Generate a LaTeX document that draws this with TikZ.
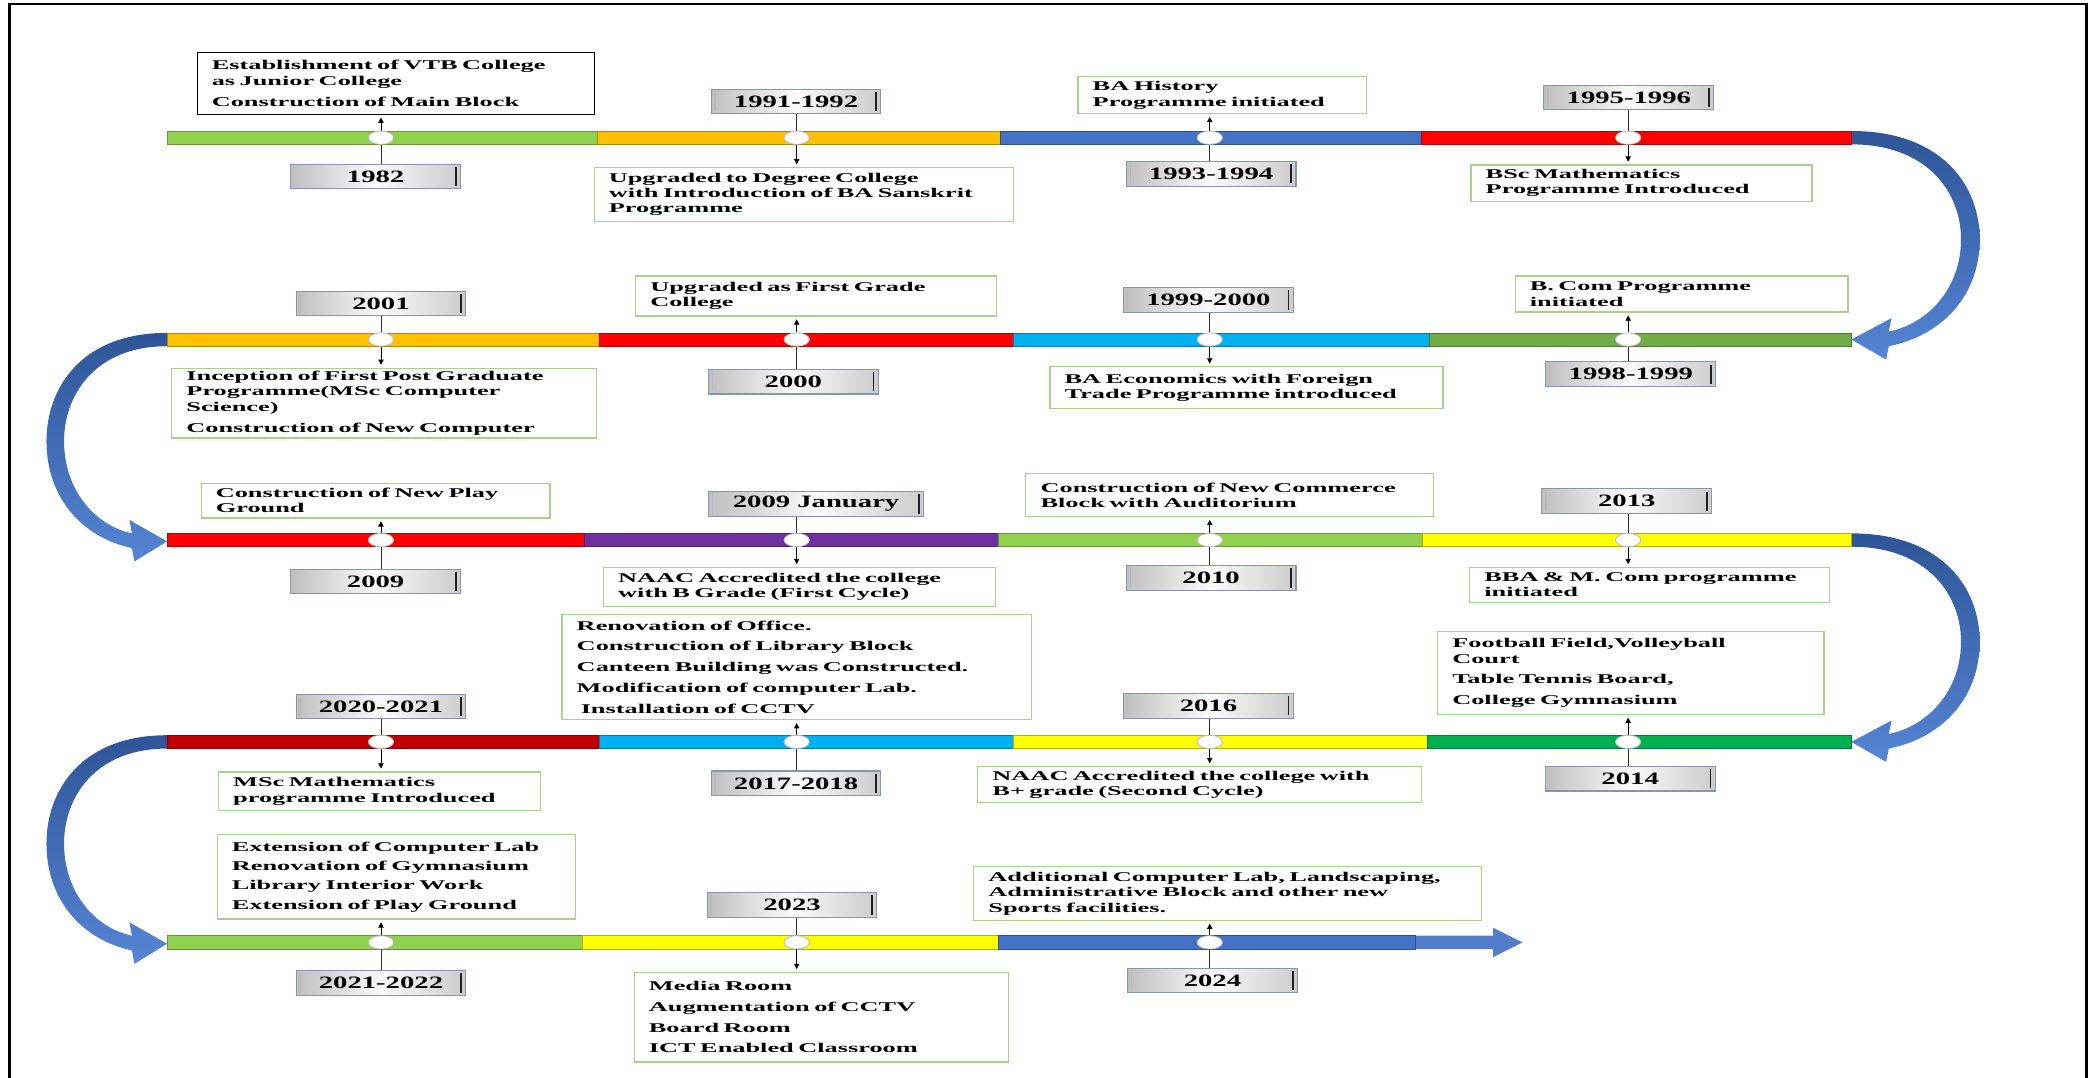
\documentclass[tikz,border=0pt]{standalone}
\usepackage{fontspec}
\newfontfamily\bodyfont{Liberation Serif}[FakeStretch=1.97]
\newfontfamily\yearfont{Liberation Serif}[FakeStretch=1.65]
\usetikzlibrary{shapes.geometric,arrows.meta}
\definecolor{cLg}{HTML}{92D050}
\definecolor{cGold}{HTML}{FFC000}
\definecolor{cBlue}{HTML}{4472C4}
\definecolor{cRed}{HTML}{FF0000}
\definecolor{cCyan}{HTML}{00B0F0}
\definecolor{cGrb}{HTML}{70AD47}
\definecolor{cPur}{HTML}{7030A0}
\definecolor{cYel}{HTML}{FFFF00}
\definecolor{cDred}{HTML}{C00000}
\definecolor{cGrc}{HTML}{00B050}
\definecolor{boxgreen}{HTML}{A9D18E}
\definecolor{yearedge}{HTML}{8497B0}
\definecolor{arrowdark}{HTML}{2F5597}
\definecolor{arrowlight}{HTML}{5585D5}
\newcommand\seg[4]{\filldraw[fill=#4, draw=#4!70!black, line width=0.5pt] (#1,#3-5) rectangle (#2,#3+5);}
\newcommand\bendarrow[3]{%
\begin{scope}[shift={(#1,#2)}, xscale=#3]
\shade[top color=arrowdark, bottom color=arrowlight]
 (0,-5) .. controls (68,-5) and (96,36) .. (96,76)
 .. controls (96,118) and (68,148) .. (28,156)
 -- (26,166) -- (0,151) -- (30,135) -- (28,145)
 .. controls (58,139) and (82,112) .. (82,76)
 .. controls (82,42) and (58,5) .. (0,5) -- cycle;
\end{scope}}
\tikzset{
 tbox/.style={draw=boxgreen, line width=0.9pt, fill=white, inner xsep=11pt, inner ysep=2pt,
   align=left, anchor=north west, font=\bodyfont\bfseries\fontsize{10}{11.5}\selectfont},
 yearbox/.style={draw=yearedge, line width=0.8pt, left color=gray!50, right color=gray!40,
   middle color=gray!4, minimum width=127pt, minimum height=18.5pt, inner sep=0pt,
   font=\yearfont\bfseries\fontsize{13}{13}\selectfont,
   path picture={
     \draw[gray!25!black, line width=1.3pt]
       ([xshift=-3.5pt,yshift=-2pt]path picture bounding box.north east) --
       ([xshift=-3.5pt,yshift=2pt]path picture bounding box.south east);
     \draw[gray!55, line width=1pt]
       ([xshift=3pt,yshift=-2pt]path picture bounding box.north west) --
       ([xshift=3pt,yshift=2pt]path picture bounding box.south west);}},
 dot/.style={ellipse, draw=gray!55, line width=0.6pt, fill=white, minimum width=19pt,
   minimum height=10pt, inner sep=0pt},
 arr/.style={-{Triangle[length=4pt,width=4pt]}, line width=0.6pt, black, shorten >=2pt},
 yline/.style={line width=0.6pt, gray!35!black}
}
\begin{document}
\begin{tikzpicture}[x=1pt,y=-1pt]
\useasboundingbox (0,0) rectangle (1568,806);
\draw[line width=2.2pt] (7,860) -- (7,3) -- (1561,3) -- (1561,860);

% curved connectors between rows
\bendarrow{1385}{103}{1}
\bendarrow{125}{254}{-0.94}
\bendarrow{1385}{404}{1}
\bendarrow{125}{555}{-0.94}

% bars
\seg{125}{447}{103}{cLg}\seg{447}{748}{103}{cGold}\seg{748}{1063}{103}{cBlue}\seg{1063}{1385}{103}{cRed}
\seg{125}{448}{254}{cGold}\seg{448}{758}{254}{cRed}\seg{758}{1069}{254}{cCyan}\seg{1069}{1385}{254}{cGrb}
\seg{125}{437}{404}{cRed}\seg{437}{747}{404}{cPur}\seg{747}{1064}{404}{cLg}\seg{1064}{1385}{404}{cYel}
\seg{125}{448}{555}{cDred}\seg{448}{758}{555}{cCyan}\seg{758}{1068}{555}{cYel}\seg{1068}{1385}{555}{cGrc}
\fill[cBlue!92!white] (1058,700) -- (1117,700) -- (1117,694) -- (1139,705) -- (1117,716) -- (1117,710) -- (1058,710) -- cycle;
\seg{125}{436}{705}{cLg}\seg{436}{747}{705}{cYel}\seg{747}{1059}{705}{cBlue}

% dots
\foreach \r/\yy in {1/103,2/254,3/404,4/555,5/705}{
  \foreach \c/\xx in {1/285,2/596,3/905,4/1218}{
    \ifnum\r\c=54\else\node[dot] (d\r\c) at (\xx,\yy) {};\fi
  }
}

% row 1
\node[tbox, draw=black, text width=275pt, minimum height=46pt] (b11) at (147,39)
 {Establishment of VTB College\\as Junior College\\[4.5pt]Construction of Main Block};
\node[yearbox] (y11) at (281,132) {1982};
\node[yearbox] (y12) at (595.5,76) {1991-1992};
\node[tbox, text width=292pt, minimum height=40pt] (b12) at (444,125)
 {Upgraded to Degree College\\with Introduction of BA Sanskrit\\Programme};
\node[tbox, text width=194pt, minimum height=27.5pt] (b13) at (806,57)
 {BA History\\Programme initiated};
\node[yearbox] (y13) at (906,130) {1993-1994};
\node[yearbox] (y14) at (1218.5,73) {1995-1996};
\node[tbox, text width=233pt, minimum height=27pt] (b14) at (1100,123)
 {BSc Mathematics\\Programme Introduced};

% row 2
\node[yearbox] (y21) at (285,227) {2001};
\node[tbox, text width=296pt, minimum height=52pt] (b21) at (128,275)
 {Inception of First Post Graduate\\Programme(MSc Computer\\Science)\\[4.5pt]Construction of New Computer};
\node[tbox, text width=248pt, minimum height=30pt] (b22) at (475,206)
 {Upgraded as First Grade\\College};
\node[yearbox] (y22) at (593.5,285.5) {2000};
\node[yearbox] (y23) at (904,224.5) {1999-2000};
\node[tbox, text width=272pt, minimum height=31pt] (b23) at (785,274)
 {BA Economics with Foreign\\Trade Programme introduced};
\node[tbox, text width=227pt, minimum height=27pt] (b24) at (1133,206)
 {B. Com Programme\\initiated};
\node[yearbox] (y24) at (1220,280) {1998-1999};

% row 3
\node[tbox, text width=239pt, minimum height=26pt] (b31) at (150,361)
 {Construction of New Play\\Ground};
\node[yearbox] (y31) at (281,435) {2009};
\node[yearbox, minimum width=161pt] (y32) at (610.5,377) {2009 January};
\node[tbox, text width=271pt, minimum height=29pt] (b32) at (451,424)
 {NAAC Accredited the college\\with B Grade (First Cycle)};
\node[tbox, text width=283pt, minimum height=32pt] (b33) at (767,354)
 {Construction of New Commerce\\Block with Auditorium};
\node[yearbox] (y33) at (906,432.5) {2010};
\node[yearbox] (y34) at (1217,375) {2013};
\node[tbox, text width=247pt, minimum height=26pt] (b34) at (1099,424)
 {BBA \& M. Com programme\\initiated};

% row 4
\node[yearbox] (y41) at (285,528.5) {2020-2021};
\node[tbox, text width=219pt, minimum height=29pt] (b41) at (163,577)
 {MSc Mathematics\\programme Introduced};
\node[tbox, text width=329pt, minimum height=79pt] (b42) at (420,459)
 {Renovation of Office.\\[4pt]Construction of Library Block\\[4pt]Canteen Building was Constructed.\\[4pt]Modification of computer Lab.\\[4pt]\hspace{3pt}Installation of CCTV};
\node[yearbox] (y42) at (595.5,586) {2017-2018};
\node[yearbox] (y43) at (904,528) {2016};
\node[tbox, text width=310pt, minimum height=27pt] (b43) at (731,573)
 {NAAC Accredited the college with\\B+ grade (Second Cycle)};
\node[tbox, text width=267pt, minimum height=62pt] (b44) at (1075,472)
 {Football Field,Volleyball\\Court\\[4pt]Table Tennis Board,\\[4pt]College Gymnasium};
\node[yearbox] (y44) at (1219.5,582.5) {2014};

% row 5
\node[tbox, text width=246pt, minimum height=63pt] (b51) at (162,624)
 {Extension of Computer Lab\\[3pt]Renovation of Gymnasium\\[3pt]Library Interior Work\\[3pt]Extension of Play Ground};
\node[yearbox] (y51) at (285,735.5) {2021-2022};
\node[yearbox] (y52) at (592.5,677) {2023};
\node[tbox, text width=258pt, minimum height=67pt] (b52) at (474,727)
 {Media Room\\[4pt]Augmentation of CCTV\\[4pt]Board Room\\[4pt]ICT Enabled Classroom};
\node[tbox, text width=358pt, minimum height=40pt] (b53) at (728,648)
 {Additional Computer Lab, Landscaping,\\Administrative Block and other new\\Sports facilities.};
\node[yearbox] (y53) at (907,733.5) {2024};

% connectors: box above / year below
\foreach \n in {11,13,22,24,31,33,42,44,51,53}{
  \draw[arr] (d\n.north) -- (d\n.north |- b\n.south);
  \draw[yline] (d\n.south) -- (d\n.south |- y\n.north);
}
% connectors: year above / box below
\foreach \n in {12,14,21,23,32,34,41,43,52}{
  \draw[yline] (d\n.north |- y\n.south) -- (d\n.north);
  \draw[arr] (d\n.south) -- (d\n.south |- b\n.north);
}
\end{tikzpicture}
\end{document}
